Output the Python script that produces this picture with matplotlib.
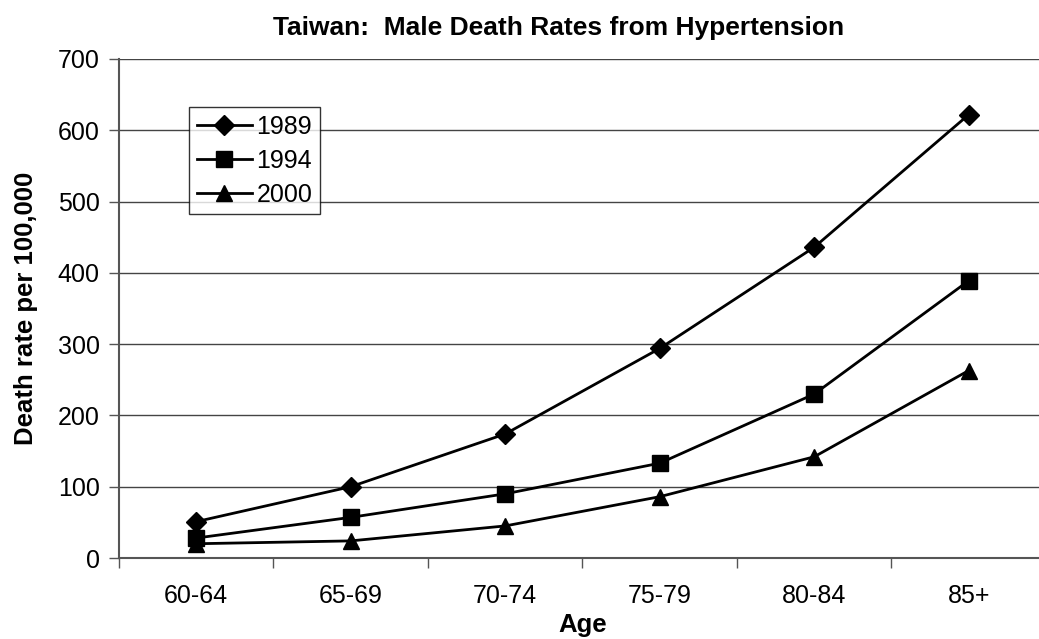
import matplotlib.pyplot as plt
import numpy as np

ages = ['60-64', '65-69', '70-74', '75-79', '80-84', '85+']
rates_1989 = [51, 100, 174, 294, 436, 622]
rates_1994 = [28, 57, 90, 133, 230, 389]
rates_2000 = [20, 24, 45, 86, 142, 263]

plt.rcParams['font.family'] = ['Liberation Sans', 'DejaVu Sans']

fig = plt.figure(figsize=(10.39, 6.39), dpi=100)
# plot area runs a little past the right edge of the canvas
ax = fig.add_axes([119 / 1039, 1 - 558 / 639, 927 / 1039, 499 / 639])

x = np.arange(len(ages))
ax.plot(x, rates_1989, color='black', lw=2, marker='D', ms=10, label='1989')
ax.plot(x, rates_1994, color='black', lw=2, marker='s', ms=11, label='1994')
ax.plot(x, rates_2000, color='black', lw=2, marker='^', ms=11, label='2000')

ax.set_xlim(-0.5, len(ages) - 0.5)
ax.set_ylim(0, 700)
ax.set_yticks(range(0, 701, 100))
ax.set_xticks(x)
ax.set_xticklabels(ages)
ax.set_xticks(np.arange(-0.5, len(ages), 1), minor=True)
ax.tick_params(axis='x', which='major', length=0, pad=19, labelsize=18)
ax.tick_params(axis='x', which='minor', length=7, direction='out', width=1, color='#555555')
ax.tick_params(axis='y', length=7, direction='out', width=1, labelsize=18, pad=7, color='#555555')

ax.grid(axis='y', color='#444444', lw=1)
ax.set_axisbelow(True)
for side in ['top', 'right']:
    ax.spines[side].set_visible(False)
ax.spines['left'].set_color('#555555')
ax.spines['left'].set_linewidth(1.5)
ax.spines['bottom'].set_color('#555555')
ax.spines['bottom'].set_linewidth(1.5)

ax.set_xlabel('Age', fontsize=18.5, fontweight='bold')
ax.xaxis.set_label_coords(0.5, -67 / 499)
ax.xaxis.label.set_va('center')
ax.set_ylabel('Death rate per 100,000', fontsize=18.5, fontweight='bold')
ax.yaxis.set_label_coords(-93 / 927, 0.5)
ax.yaxis.label.set_va('center')
fig.text(0.538, 1 - 28 / 639, 'Taiwan:  Male Death Rates from Hypertension',
         ha='center', va='center', fontsize=19, fontweight='bold')

leg = ax.legend(loc='upper left', bbox_to_anchor=(70 / 927, 1 - 48 / 499),
                frameon=True, fancybox=False, fontsize=18, handlelength=2.2,
                borderpad=0.3, labelspacing=0.4, handletextpad=0.2, borderaxespad=0)
leg.get_frame().set_edgecolor('black')
leg.get_frame().set_linewidth(1)

fig.savefig('out.png', dpi=100)
